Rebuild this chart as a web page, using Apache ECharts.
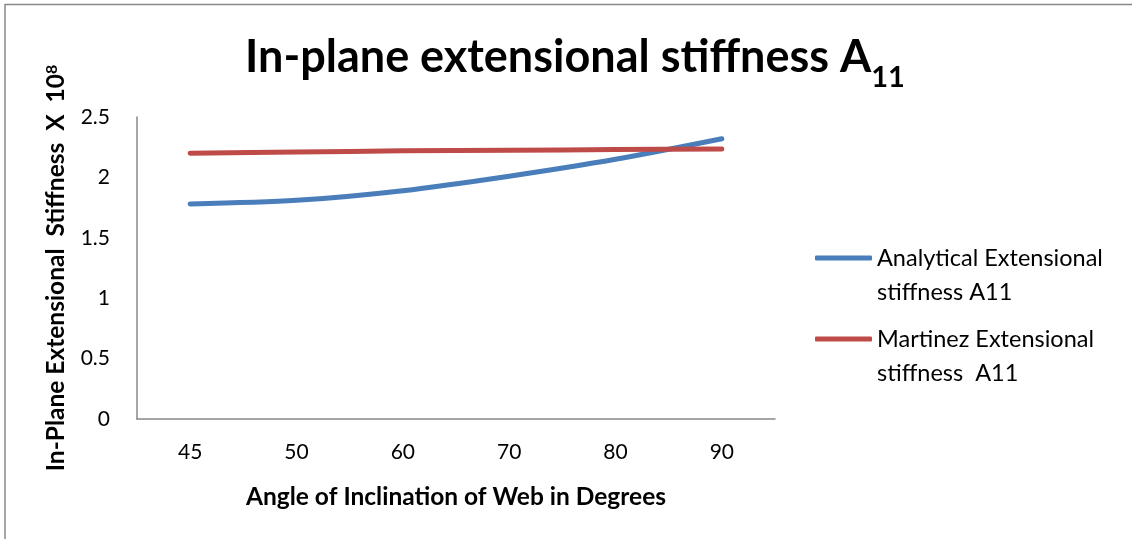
<!DOCTYPE html>
<html><head><meta charset="utf-8">
<script src="https://cdn.jsdelivr.net/npm/echarts@6/dist/echarts.min.js"></script>
<style>html,body{margin:0;padding:0;background:#fff}#c{width:1132px;height:539px}</style>
</head><body><div id="c"></div>
<script>
const categories = ['45', '50', '60', '70', '80', '90'];
const analytical = [1.78, 1.81, 1.89, 2.01, 2.15, 2.32];
const martinez = [2.20, 2.21, 2.22, 2.225, 2.23, 2.235];
const seriesNames = ['Analytical Extensional\nstiffness A11', 'Martinez Extensional\nstiffness  A11'];
const yTicks = { min: 0, max: 2.5, interval: 0.5 };

const FONT = 'Lato';
const chart = echarts.init(document.getElementById('c'));
function legendCfg(name, top) {
  return {
    data: [name], left: 815, top: top, orient: 'vertical', padding: 0,
    icon: 'roundRect', itemWidth: 57, itemHeight: 5, itemGap: 0,
    formatter: n => ' \n' + n,
    textStyle: { fontFamily: FONT, fontSize: 23.5, color: '#000', lineHeight: 34 }
  };
}
chart.setOption({
  animation: false,
  textStyle: { fontFamily: FONT },
  title: {
    text: '{a|In-plane extensional stiffness A}{s|11}',
    left: 245, top: 24, padding: 0,
    textStyle: {
      rich: {
        a: { fontFamily: FONT, fontSize: 45, fontWeight: 'bold', color: '#000', verticalAlign: 'bottom', lineHeight: 56 },
        s: { fontFamily: FONT, fontSize: 29, fontWeight: 'bold', color: '#000', verticalAlign: 'bottom', lineHeight: 56, padding: [0, 0, -12, 0] }
      }
    }
  },
  legend: [legendCfg(seriesNames[0], 207), legendCfg(seriesNames[1], 288)],
  grid: { left: 137, right: 357, top: 117, bottom: 120, containLabel: false },
  xAxis: {
    type: 'category', data: categories, boundaryGap: true,
    axisLine: { lineStyle: { color: '#888', width: 1.5 } },
    axisTick: { show: false },
    axisLabel: { fontFamily: FONT, fontSize: 21, color: '#000', margin: 23 },
    name: 'Angle of Inclination of Web in Degrees', nameLocation: 'middle', nameGap: 66,
    nameTextStyle: { fontFamily: FONT, fontSize: 24.5, fontWeight: 'bold', color: '#000' }
  },
  yAxis: {
    type: 'value', min: yTicks.min, max: yTicks.max, interval: yTicks.interval,
    axisLine: { show: true, lineStyle: { color: '#888', width: 1.5 } },
    axisTick: { show: false }, splitLine: { show: false },
    axisLabel: { fontFamily: FONT, fontSize: 21, color: '#000', margin: 27 },
    name: '{a|In-Plane Extensional  Stiffness  X  10}{s|8}', nameLocation: 'middle', nameGap: 68,
    nameTextStyle: {
      rich: {
        a: { fontFamily: FONT, fontSize: 24.5, fontWeight: 'bold', color: '#000', verticalAlign: 'bottom', lineHeight: 28 },
        s: { fontFamily: FONT, fontSize: 16, fontWeight: 'bold', color: '#000', verticalAlign: 'bottom', lineHeight: 28, padding: [0, 0, 9, 0] }
      }
    }
  },
  graphic: [
    { type: 'line', shape: { x1: 5, y1: 4.5, x2: 1132, y2: 4.5 }, style: { stroke: '#888', lineWidth: 1.5 } },
    { type: 'line', shape: { x1: 5, y1: 4, x2: 5, y2: 539 }, style: { stroke: '#888', lineWidth: 1.5 } }
  ],
  series: [
    { name: seriesNames[0], type: 'line', data: analytical, smooth: 0.3, symbol: 'none',
      lineStyle: { color: '#4A7EBB', width: 5, cap: 'round' }, itemStyle: { color: '#4A7EBB' } },
    { name: seriesNames[1], type: 'line', data: martinez, smooth: 0.3, symbol: 'none',
      lineStyle: { color: '#BE4B48', width: 5, cap: 'round' }, itemStyle: { color: '#BE4B48' } }
  ]
});
</script></body></html>
